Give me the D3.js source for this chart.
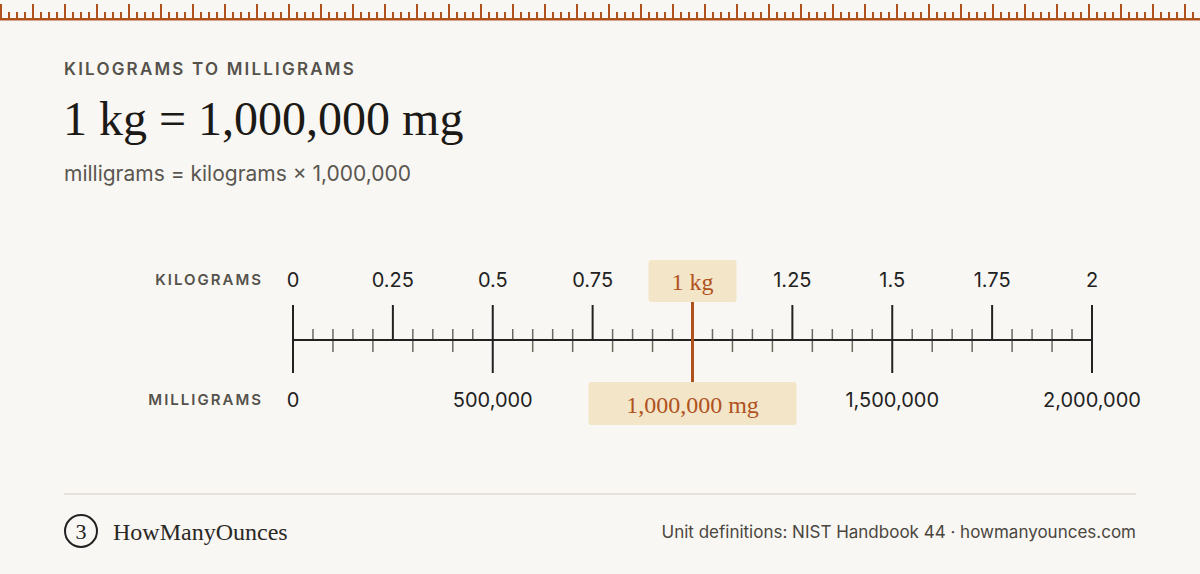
<!DOCTYPE html><html><head><meta charset="utf-8">
<script src="https://cdn.jsdelivr.net/npm/d3@7"></script>
<style>body{margin:0;background:#f9f7f3}svg{display:block}</style></head><body>
<svg id="c" width="1200" height="574"></svg>
<script>
const kgTicks=[0,0.25,0.5,0.75,1,1.25,1.5,1.75,2];
const kgLabels=["0","0.25","0.5","0.75","1","1.25","1.5","1.75","2"];
const mgTicks=[0,500000,1000000,1500000,2000000];
const mgLabels=["0","500,000","1,000,000","1,500,000","2,000,000"];
const highlightKg=[1];
const highlightLabels=["1 kg","1,000,000 mg"];
const accent="#b0521e", ink="#222";
const svg=d3.select("#c");
svg.append("rect").attr("width",1200).attr("height",574).attr("fill","#f9f7f3");
// top ruler
const rx=d3.range(0,1201,8);
svg.selectAll(".rt").data(rx).join("rect").attr("x",d=>d).attr("width",2)
 .attr("y",(d,i)=>i%4===0?4:12).attr("height",(d,i)=>i%4===0?15:7).attr("fill",accent);
svg.append("rect").attr("x",0).attr("y",18).attr("width",1200).attr("height",2.5).attr("fill",accent);
svg.append("text").attr("x",64).attr("y",75).text("KILOGRAMS TO MILLIGRAMS").attr("font-family","Inter").attr("font-weight",600).attr("font-size",17).attr("letter-spacing",2.2).attr("fill","#55524c");
svg.append("text").attr("x",63).attr("y",135).text("1 kg = 1,000,000 mg").attr("font-family","Liberation Serif").attr("font-weight",500).attr("font-size",48).attr("fill","#1c1a17");
svg.append("text").attr("x",64).attr("y",181).text("milligrams = kilograms × 1,000,000").attr("font-family","Inter").attr("font-size",21).attr("fill","#5a5650");
const x=d3.scaleLinear().domain([0,2]).range([293,1092]);
const xm=d3.scaleLinear().domain([0,2000000]).range([293,1092]);
const y0=340;
// minor ticks
const minor=d3.range(0,41).map(i=>i*0.05).filter(v=>Math.abs(v*4-Math.round(v*4))>1e-6);
svg.selectAll(".mn").data(minor).join("line").attr("x1",d=>x(d)).attr("x2",d=>x(d))
 .attr("y1",329).attr("y2",(d)=>Math.round(d*20)%2===0?352:340).attr("stroke","#6b6862").attr("stroke-width",1.5);
svg.selectAll(".mj").data(kgTicks).join("line").attr("x1",d=>x(d)).attr("x2",d=>x(d))
 .attr("y1",305).attr("y2",d=>Math.round(d*4)%2===0?373:340).attr("stroke",ink).attr("stroke-width",2);
svg.append("line").attr("x1",x(0)).attr("x2",x(2)).attr("y1",y0).attr("y2",y0).attr("stroke",ink).attr("stroke-width",2);
// labels
svg.selectAll(".kl").data(kgTicks).join("text").filter(d=>!highlightKg.includes(d))
 .attr("x",d=>x(d)).attr("y",287).attr("text-anchor","middle").text((d)=>kgLabels[kgTicks.indexOf(d)])
 .attr("font-family","Inter").attr("font-size",20).attr("fill","#222");
svg.selectAll(".ml").data(mgTicks).join("text").filter(d=>d!==highlightKg[0]*1e6)
 .attr("x",d=>xm(d)).attr("y",407).attr("text-anchor","middle").text(d=>mgLabels[mgTicks.indexOf(d)])
 .attr("font-family","Inter").attr("font-size",20).attr("fill","#222");
svg.append("text").attr("x",263).attr("y",285).attr("text-anchor","end").text("KILOGRAMS").attr("font-family","Inter").attr("font-weight",600).attr("font-size",15).attr("letter-spacing",2).attr("fill","#55524c");
svg.append("text").attr("x",263).attr("y",405).attr("text-anchor","end").text("MILLIGRAMS").attr("font-family","Inter").attr("font-weight",600).attr("font-size",15).attr("letter-spacing",2).attr("fill","#55524c");
// highlight
const hx=x(highlightKg[0]);
svg.append("line").attr("x1",hx).attr("x2",hx).attr("y1",302).attr("y2",382).attr("stroke",accent).attr("stroke-width",3);
svg.append("rect").attr("x",hx-44).attr("y",260).attr("width",88).attr("height",42).attr("rx",3).attr("fill","#f3e5c8");
svg.append("text").attr("x",hx).attr("y",290).attr("text-anchor","middle").text(highlightLabels[0]).attr("font-family","Liberation Serif").attr("font-size",24).attr("fill",accent);
svg.append("rect").attr("x",hx-104).attr("y",382).attr("width",208).attr("height",43).attr("rx",3).attr("fill","#f3e5c8");
svg.append("text").attr("x",hx).attr("y",413).attr("text-anchor","middle").text(highlightLabels[1]).attr("font-family","Liberation Serif").attr("font-size",24).attr("fill",accent);
// footer
svg.append("line").attr("x1",64).attr("x2",1136).attr("y1",494).attr("y2",494).attr("stroke","#dedad2").attr("stroke-width",1.5);
svg.append("circle").attr("cx",81).attr("cy",531).attr("r",16).attr("fill","none").attr("stroke","#222").attr("stroke-width",2);
svg.append("text").attr("x",81).attr("y",539).attr("text-anchor","middle").text("3").attr("font-family","Liberation Serif").attr("font-size",22).attr("fill","#222");
svg.append("text").attr("x",113).attr("y",540).text("HowManyOunces").attr("font-family","Liberation Serif").attr("font-size",24).attr("fill","#2a2825");
svg.append("text").attr("x",1136).attr("y",538).attr("text-anchor","end").text("Unit definitions: NIST Handbook 44 · howmanyounces.com").attr("font-family","Inter").attr("font-size",17).attr("fill","#4a4640");
</script></body></html>
